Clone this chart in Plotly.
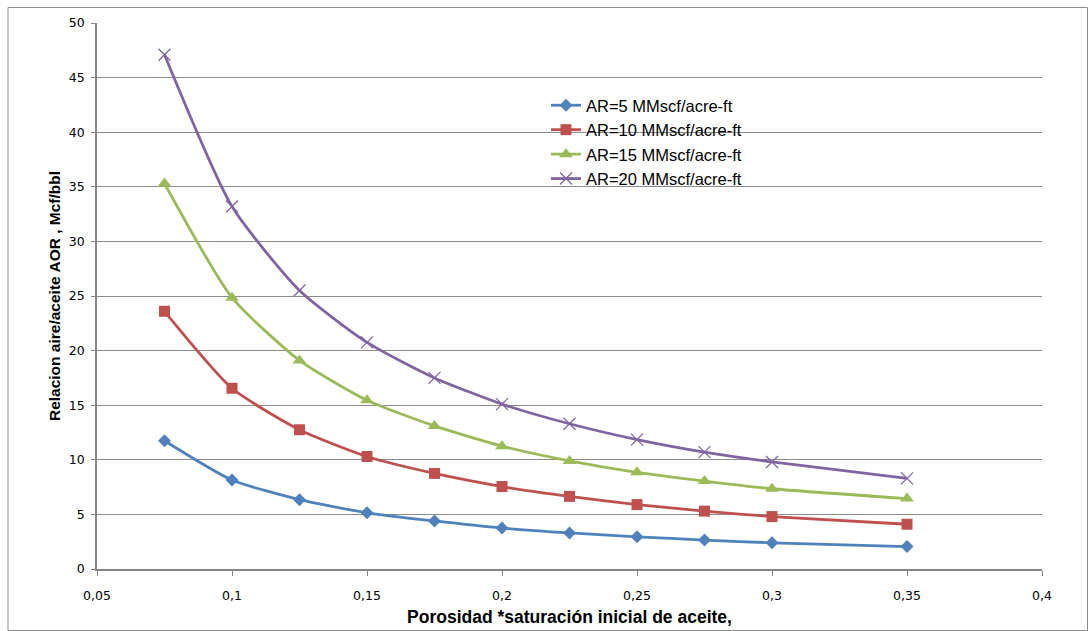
import plotly.graph_objects as go

# Porosity * initial oil saturation
phi_so = [0.075, 0.1, 0.125, 0.15, 0.175, 0.2, 0.225, 0.25, 0.275, 0.3, 0.35]

# Air/oil ratio (Mcf/bbl) for each air requirement
aor_ar5 = [11.75, 8.15, 6.35, 5.15, 4.4, 3.75, 3.3, 2.95, 2.65, 2.4, 2.05]
aor_ar10 = [23.6, 16.55, 12.75, 10.3, 8.75, 7.55, 6.65, 5.9, 5.3, 4.8, 4.1]
aor_ar15 = [35.3, 24.85, 19.1, 15.45, 13.1, 11.25, 9.9, 8.85, 8.05, 7.35, 6.45]
aor_ar20 = [47.1, 33.2, 25.5, 20.75, 17.5, 15.1, 13.3, 11.85, 10.7, 9.8, 8.3]

series_names = [
    "AR=5 MMscf/acre-ft",
    "AR=10 MMscf/acre-ft",
    "AR=15 MMscf/acre-ft",
    "AR=20 MMscf/acre-ft",
]
x_ticks = [0.05, 0.1, 0.15, 0.2, 0.25, 0.3, 0.35, 0.4]
y_ticks = list(range(0, 55, 5))

styles = [
    dict(color="#4F81BD", symbol="diamond", size=10, lw=0),
    dict(color="#C0504D", symbol="square", size=11, lw=0),
    dict(color="#9BBB59", symbol="triangle-up", size=12, lw=0),
    dict(color="#8064A2", symbol="x-thin-open", size=12, lw=1.3),
]

fig = go.Figure()
for name, ys, st in zip(series_names, [aor_ar5, aor_ar10, aor_ar15, aor_ar20], styles):
    fig.add_trace(go.Scatter(
        x=phi_so, y=ys, name=name, mode="lines+markers",
        line=dict(color=st["color"], width=2.8, shape="spline", smoothing=0.6),
        marker=dict(color=st["color"], symbol=st["symbol"], size=st["size"],
                    line=dict(color=st["color"], width=st["lw"])),
    ))

L, R, T, B = 97, 47, 23, 62
W, H = 1089, 631
pw, ph = W - L - R, H - T - B

fig.update_layout(
    width=W, height=H,
    margin=dict(l=L, r=R, t=T, b=B, autoexpand=False),
    paper_bgcolor="white", plot_bgcolor="white",
    separators=",.",
    font=dict(family="DejaVu Sans, Verdana, sans-serif", size=12.5, color="#000"),
    legend=dict(
        x=(546 - L) / pw, y=1 - (88 - T) / ph, xanchor="left", yanchor="top",
        bgcolor="rgba(0,0,0,0)", borderwidth=0,
        font=dict(family="Liberation Sans, Arial, sans-serif", size=16.5),
        tracegroupgap=0, itemwidth=30,
    ),
    shapes=[dict(
        type="rect", xref="paper", yref="paper",
        x0=(8 - L) / pw, x1=(1087.5 - L) / pw,
        y0=-(630.5 - T - ph) / ph, y1=1 + (T - 7.5) / ph,
        line=dict(color="#8c8c8c", width=1), fillcolor="rgba(0,0,0,0)", layer="below",
    )],
)

fig.update_xaxes(
    range=[0.05, 0.4], tickvals=x_ticks, showgrid=False, automargin=False,
    showline=True, linecolor="#868686", linewidth=1.5,
    ticks="outside", ticklen=5, tickcolor="#868686", ticklabelstandoff=9,
    zeroline=False,
    title=dict(text="<b>Porosidad *saturación inicial de aceite,</b>",
               font=dict(family="Liberation Sans, Arial, sans-serif", size=17.5), standoff=9),
)
fig.update_yaxes(
    range=[0, 50], tickvals=y_ticks, automargin=False,
    showgrid=True, gridcolor="#8c8c8c", gridwidth=1,
    showline=True, linecolor="#868686", linewidth=1.5,
    ticks="outside", ticklen=4, tickcolor="#868686", ticklabelstandoff=4,
    zeroline=False,
    title=dict(text="<b>Relacion aire/aceite AOR , Mcf/bbl</b>",
               font=dict(family="Liberation Sans, Arial, sans-serif", size=15.5), standoff=4),
)

fig.write_html("out.html")
